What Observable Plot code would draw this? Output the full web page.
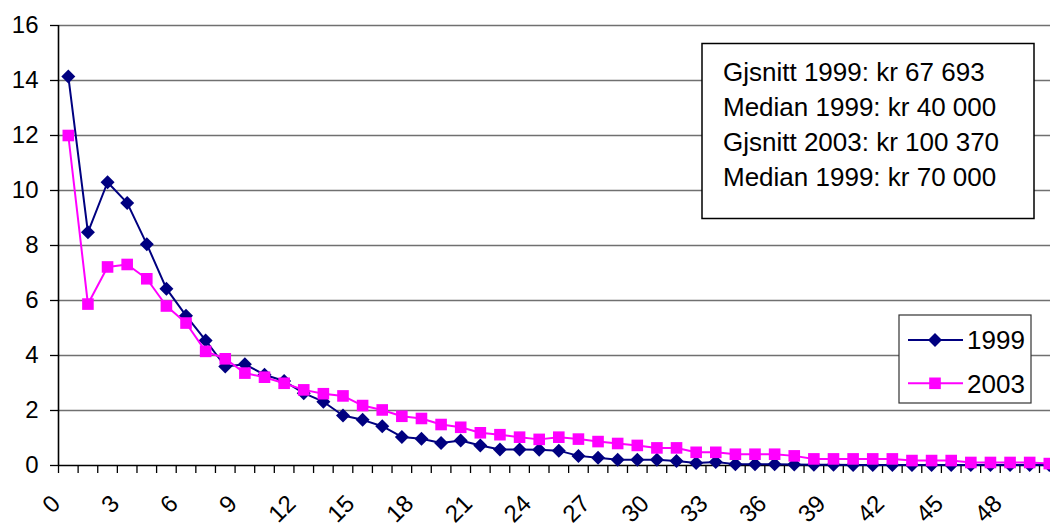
<!DOCTYPE html>
<html>
<head>
<meta charset="utf-8">
<script src="https://cdn.jsdelivr.net/npm/d3@7"></script>
<script src="https://cdn.jsdelivr.net/npm/@observablehq/plot@0.6"></script>
<style>
  html, body { margin: 0; padding: 0; background: white; overflow: hidden; }
  #chart { position: relative; width: 1050px; height: 527px; }
</style>
</head>
<body>
<div id="chart"></div>
<script>
// ---- data ----
const categories = d3.range(0, 51);
const values1999 = [14.15, 8.48, 10.30, 9.55, 8.05, 6.43, 5.45, 4.55, 3.60, 3.68,
  3.30, 3.07, 2.63, 2.32, 1.82, 1.66, 1.43, 1.04, 0.97, 0.82,
  0.91, 0.73, 0.58, 0.58, 0.57, 0.54, 0.35, 0.28, 0.21, 0.21,
  0.21, 0.16, 0.09, 0.13, 0.05, 0.05, 0.05, 0.04, 0.03, 0.03,
  0.02, 0.02, 0.02, 0.02, 0.02, 0.02, 0.02, 0.02, 0.02, 0.02, 0.02];
const values2003 = [12.0, 5.87, 7.22, 7.31, 6.79, 5.80, 5.18, 4.15, 3.88, 3.36,
  3.21, 2.99, 2.75, 2.61, 2.53, 2.18, 2.02, 1.79, 1.71, 1.49,
  1.39, 1.19, 1.12, 1.03, 0.95, 1.03, 0.96, 0.87, 0.80, 0.73,
  0.64, 0.64, 0.48, 0.48, 0.41, 0.41, 0.41, 0.35, 0.24, 0.24,
  0.24, 0.24, 0.24, 0.18, 0.18, 0.18, 0.11, 0.11, 0.11, 0.11, 0.07];
const seriesNames = ["1999", "2003"];
const yTicks = [0, 2, 4, 6, 8, 10, 12, 14, 16];
const xTickLabels = d3.range(0, 49, 3);
const infoLines = [
  "Gjsnitt 1999: kr 67 693",
  "Median 1999: kr 40 000",
  "Gjsnitt 2003: kr 100 370",
  "Median 1999: kr 70 000"
];

const rows1999 = categories.map((c, i) => ({cat: c, value: values1999[i]}));
const rows2003 = categories.map((c, i) => ({cat: c, value: values2003[i]}));
const boundaries = d3.range(0, 52).map(d => d - 0.5);

const colors = {"1999": "#000080", "2003": "#FF00FF"};

// custom symbols: r = sqrt(size/PI)
const diamondSym = {draw(ctx, size) { const r = Math.sqrt(size / Math.PI);
  ctx.moveTo(0, -r); ctx.lineTo(r, 0); ctx.lineTo(0, r); ctx.lineTo(-r, 0); ctx.closePath(); }};
const squareSym = {draw(ctx, size) { const r = Math.sqrt(size / Math.PI);
  ctx.rect(-r, -r, 2 * r, 2 * r); }};

const FONT = "'Liberation Sans', Arial, sans-serif";

const plot = Plot.plot({
  width: 1050,
  height: 527,
  marginLeft: 58,
  marginTop: 25,
  marginBottom: 62,
  marginRight: 0,
  style: {fontFamily: FONT, fontSize: "24px", color: "black", background: "white", overflow: "hidden"},
  x: {type: "linear", domain: [-0.5, 50.5], range: [58, 58 + 51 * 19.62]},
  y: {domain: [0, 16], range: [465, 25]},
  marks: [
    Plot.ruleY(yTicks.filter(d => d > 0), {stroke: "#707070", strokeWidth: 1.3}),
    Plot.axisY(yTicks, {tickSize: 8, tickPadding: 12, fontSize: 24, label: null, stroke: "black", strokeWidth: 1.3}),
    Plot.axisX(boundaries, {tickSize: 8, tickFormat: () => "", label: null, stroke: "black", strokeWidth: 1.3}),
    Plot.text(xTickLabels, {x: d => d, frameAnchor: "bottom", text: d => String(d), rotate: -45,
      textAnchor: "end", lineAnchor: "middle", dx: -12, dy: 34, fontSize: 24, fill: "black"}),
    Plot.ruleX([-0.5], {y1: 0, y2: 16, stroke: "black", strokeWidth: 1.6}),
    Plot.ruleY([0], {stroke: "black", strokeWidth: 1.6}),
    Plot.line(rows1999, {x: "cat", y: "value", stroke: colors["1999"], strokeWidth: 2}),
    Plot.dot(rows1999, {x: "cat", y: "value", symbol: diamondSym, r: 7, fill: colors["1999"], stroke: "none"}),
    Plot.line(rows2003, {x: "cat", y: "value", stroke: colors["2003"], strokeWidth: 2}),
    Plot.dot(rows2003, {x: "cat", y: "value", symbol: squareSym, r: 5.8, fill: colors["2003"], stroke: "none"})
  ]
});

document.getElementById("chart").appendChild(plot);

// ---- annotations: info box and legend ----
const svg = d3.select(plot);
const info = svg.append("g").attr("font-family", FONT).attr("font-size", 26).attr("text-anchor", "start");
info.append("rect").attr("x", 702).attr("y", 43.5).attr("width", 332).attr("height", 175)
  .attr("fill", "white").attr("stroke", "black").attr("stroke-width", 1.5);
info.selectAll("text").data(infoLines).join("text")
  .attr("x", 723).attr("y", (d, i) => 81 + i * 35).attr("fill", "black").attr("text-anchor", "start").text(d => d);

const leg = svg.append("g").attr("font-family", FONT).attr("font-size", 26).attr("text-anchor", "start");
leg.append("rect").attr("x", 899).attr("y", 315).attr("width", 132).attr("height", 88)
  .attr("fill", "white").attr("stroke", "#333").attr("stroke-width", 1.2);
const legRows = seriesNames.map((name, i) => ({name, cy: 340 + i * 43.3, sym: i === 0 ? diamondSym : squareSym, r: i === 0 ? 7 : 5.8}));
legRows.forEach(row => {
  leg.append("line").attr("x1", 908).attr("x2", 963).attr("y1", row.cy).attr("y2", row.cy)
    .attr("stroke", colors[row.name]).attr("stroke-width", 2);
  leg.append("path").attr("transform", `translate(935,${row.cy})`)
    .attr("d", d3.symbol(row.sym, Math.PI * row.r * row.r)()).attr("fill", colors[row.name]);
  leg.append("text").attr("x", 967).attr("y", row.cy + 6.8 + 2.5).attr("fill", "black")
    .attr("text-anchor", "start").text(row.name);
});
</script>
</body>
</html>
